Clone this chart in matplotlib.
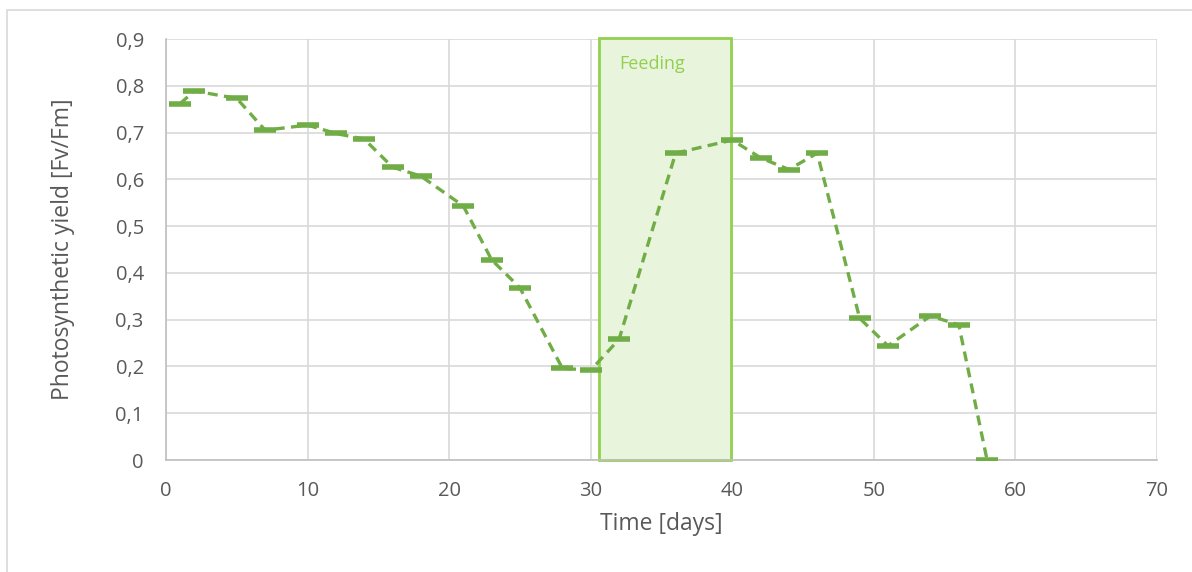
import matplotlib
matplotlib.use('Agg')
import matplotlib.pyplot as plt
from matplotlib.patches import Rectangle
from matplotlib.ticker import FuncFormatter, MultipleLocator

plt.rcParams['font.family'] = ['Open Sans', 'DejaVu Sans']

# data
days = [1, 2, 5, 7, 10, 12, 14, 16, 18, 21, 23, 25, 28, 30, 32,
        36, 40, 42, 44, 46, 49, 51, 54, 56, 58]
yield_fvfm = [0.762, 0.789, 0.773, 0.705, 0.716, 0.698, 0.686, 0.626, 0.607, 0.543,
              0.428, 0.368, 0.196, 0.192, 0.258,
              0.656, 0.684, 0.646, 0.621, 0.656, 0.303, 0.244, 0.308, 0.289, 0.0]
feeding_start = 30.6
feeding_end = 39.9
feeding_label = 'Feeding'

fig = plt.figure(figsize=(11.92, 5.72), dpi=100)
ax = fig.add_axes([0.1393, 0.1958, 0.8313, 0.736])

# outer chart border
fig.patches.append(Rectangle((7 / 1192, -0.01), 1.1, 1 - 10 / 572 + 0.01,
                             transform=fig.transFigure, fill=False,
                             edgecolor='#D9D9D9', linewidth=1.2))

# feeding window
ax.add_patch(Rectangle((feeding_start, 0), feeding_end - feeding_start, 0.903,
                       facecolor='#E8F4DC', edgecolor='#92D050', linewidth=2,
                       zorder=1, clip_on=False))
ax.text(feeding_start + 1.4, 0.846, feeding_label, color='#92D050',
        fontsize=13, va='center', ha='left', zorder=2)

ax.plot(days, yield_fvfm, color='#70AD47', linestyle=(0, (3.0, 1.9)), linewidth=2.4,
        marker='_', markersize=16, markeredgewidth=4, zorder=3)

ax.set_xlim(0, 70)
ax.set_ylim(0, 0.9)
ax.xaxis.set_major_locator(MultipleLocator(10))
ax.yaxis.set_major_locator(MultipleLocator(0.1))
ax.yaxis.set_major_formatter(FuncFormatter(
    lambda v, p: '0' if abs(v) < 1e-9 else ('%.1f' % v).replace('.', ',')))

ax.grid(True, color='#D9D9D9', linewidth=1.2, zorder=0)
ax.set_axisbelow(True)
for s in ['top', 'right']:
    ax.spines[s].set_visible(False)
for s in ['left', 'bottom']:
    ax.spines[s].set_color('#BFBFBF')
    ax.spines[s].set_linewidth(1.2)
ax.tick_params(length=0, labelsize=14.5, labelcolor='#595959')
ax.tick_params(axis='y', pad=16)
ax.tick_params(axis='x', pad=15)

ax.set_xlabel('Time [days]', fontsize=16.5, color='#595959', labelpad=8)
ax.set_ylabel('Photosynthetic yield [Fv/Fm]', fontsize=16.5, color='#595959', labelpad=29)

fig.savefig('out.png', dpi=100)
